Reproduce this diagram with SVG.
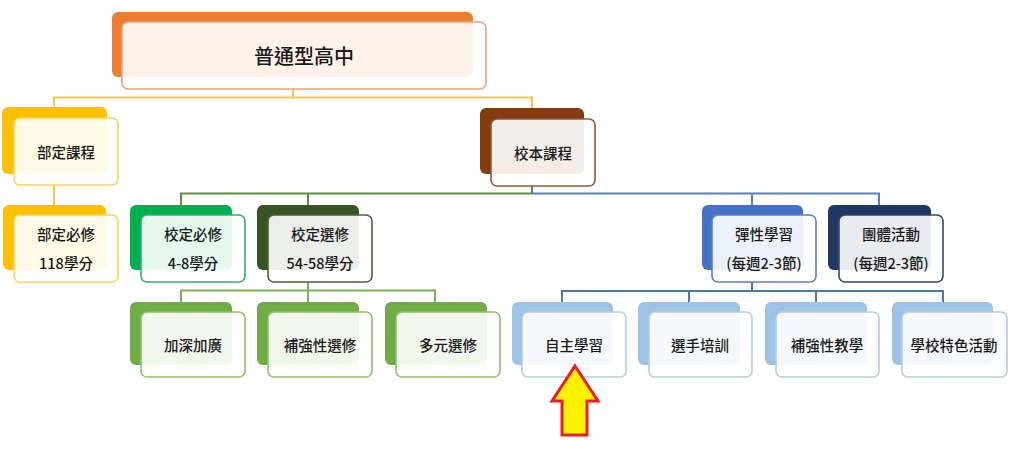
<svg xmlns="http://www.w3.org/2000/svg" width="1024" height="453" viewBox="0 0 1024 453">
<style>
text{font-family:"Noto Sans CJK TC","Noto Sans CJK SC",sans-serif;fill:#1a1a1a;text-anchor:middle;dominant-baseline:central;font-size:14.5px;font-weight:500}
text.big{font-size:20px}
.front{fill:#ffffff;fill-opacity:0.9;stroke-width:1.6}
.ln{fill:none;stroke-width:2}
.yl{stroke:#F2C94C}.dg{stroke:#5E8F3E}.bl{stroke:#5B82BE}.lg{stroke:#7AB356}.db{stroke:#4D79B0}
</style>
<rect width="1024" height="453" fill="#ffffff"/>
<g id="connectors">
<path class="ln yl" d="M293,89V97.5M54,107V97.5H532V110M54,185V205"/>
<path class="ln dg" d="M532,185V193.5H181V205M308,193.5V205"/>
<path class="ln bl" d="M532,193.5H879V205M752,193.5V205"/>
<path class="ln lg" d="M308,282V290.5M181,302V290.5H435V302M308,290.5V302"/>
<path class="ln db" d="M752,282V291M562,302V291H943V302M689,291V302M816,291V302"/>
</g>
<g id="n-top">
<rect x="112" y="12" width="361" height="65" rx="6" fill="#ED7D31"/>
<rect class="front" x="122" y="22" width="364" height="67" rx="6" stroke="#E9A47A"/>
<text class="big" x="304" y="55.5">普通型高中</text>
</g>
<g id="n-buding">
<rect x="2" y="107" width="105" height="67" rx="6" fill="#FFC000"/>
<rect class="front" x="14" y="118" width="104" height="67" rx="6" stroke="#FFD34F"/>
<text x="66" y="151.5">部定課程</text>
</g>
<g id="n-xiaoben">
<rect x="480" y="108" width="104" height="66" rx="6" fill="#843C0C"/>
<rect class="front" x="491" y="119" width="104" height="67" rx="6" stroke="#8E5A38"/>
<text x="543" y="152">校本課程</text>
</g>
<g id="n-budingbixiu">
<rect x="3" y="205" width="103" height="65" rx="6" fill="#FFC000"/>
<rect class="front" x="14" y="215" width="104" height="67" rx="6" stroke="#FFD34F"/>
<text x="66" y="233.5">部定必修</text>
<text x="66" y="262.5">118學分</text>
</g>
<g id="n-xiaodingbixiu">
<rect x="130" y="205" width="102" height="65" rx="6" fill="#00B050"/>
<rect class="front" x="141" y="215" width="104" height="67" rx="6" stroke="#3DAA72"/>
<text x="193" y="233.5">校定必修</text>
<text x="193" y="262.5">4-8學分</text>
</g>
<g id="n-xiaodingxuanxiu">
<rect x="257" y="205" width="102" height="65" rx="6" fill="#375623"/>
<rect class="front" x="268" y="215" width="104" height="67" rx="6" stroke="#4B5F3E"/>
<text x="320" y="233.5">校定選修</text>
<text x="320" y="262.5">54-58學分</text>
</g>
<g id="n-tanxing">
<rect x="702" y="205" width="101" height="65" rx="6" fill="#4472C4"/>
<rect class="front" x="712" y="215" width="104" height="67" rx="6" stroke="#5B80C2"/>
<text x="764" y="233.5">彈性學習</text>
<text x="764" y="262.5">(每週2-3節)</text>
</g>
<g id="n-tuanti">
<rect x="828" y="205" width="103" height="65" rx="6" fill="#1F3864"/>
<rect class="front" x="839" y="215" width="104" height="67" rx="6" stroke="#33476B"/>
<text x="891" y="233.5">團體活動</text>
<text x="891" y="262.5">(每週2-3節)</text>
</g>
<g id="n-jiashen">
<rect x="130" y="302" width="102" height="63" rx="6" fill="#70AD47"/>
<rect class="front" x="141" y="312" width="104" height="65" rx="6" stroke="#8DC16A"/>
<text x="193" y="344.5">加深加廣</text>
</g>
<g id="n-buqiangxuanxiu">
<rect x="257" y="302" width="102" height="63" rx="6" fill="#70AD47"/>
<rect class="front" x="268" y="312" width="104" height="65" rx="6" stroke="#8DC16A"/>
<text x="320" y="344.5">補強性選修</text>
</g>
<g id="n-duoyuan">
<rect x="385" y="302" width="102" height="63" rx="6" fill="#70AD47"/>
<rect class="front" x="396" y="312" width="104" height="65" rx="6" stroke="#8DC16A"/>
<text x="448" y="344.5">多元選修</text>
</g>
<g id="n-zizhu">
<rect x="512" y="302" width="101" height="63" rx="6" fill="#9DC3E6"/>
<rect class="front" x="522" y="312" width="104" height="65" rx="6" stroke="#B5CDE4"/>
<text x="574" y="344.5">自主學習</text>
</g>
<g id="n-xuanshou">
<rect x="638" y="302" width="102" height="63" rx="6" fill="#9DC3E6"/>
<rect class="front" x="649" y="312" width="103" height="65" rx="6" stroke="#B5CDE4"/>
<text x="700" y="344.5">選手培訓</text>
</g>
<g id="n-buqiangjiaoxue">
<rect x="765" y="302" width="102" height="63" rx="6" fill="#9DC3E6"/>
<rect class="front" x="776" y="312" width="103" height="65" rx="6" stroke="#B5CDE4"/>
<text x="827" y="344.5">補強性教學</text>
</g>
<g id="n-tese">
<rect x="892" y="302" width="101" height="63" rx="6" fill="#9DC3E6"/>
<rect class="front" x="902" y="312" width="105" height="65" rx="6" stroke="#B5CDE4"/>
<text x="954" y="344.5">學校特色活動</text>
</g>
<g id="arrow">
<polygon points="575,366 598,401 587,401 587,435 562,435 562,401 552,401" fill="#FFF200" stroke="#EE1C24" stroke-width="3" stroke-linejoin="miter"/>
</g>
</svg>
